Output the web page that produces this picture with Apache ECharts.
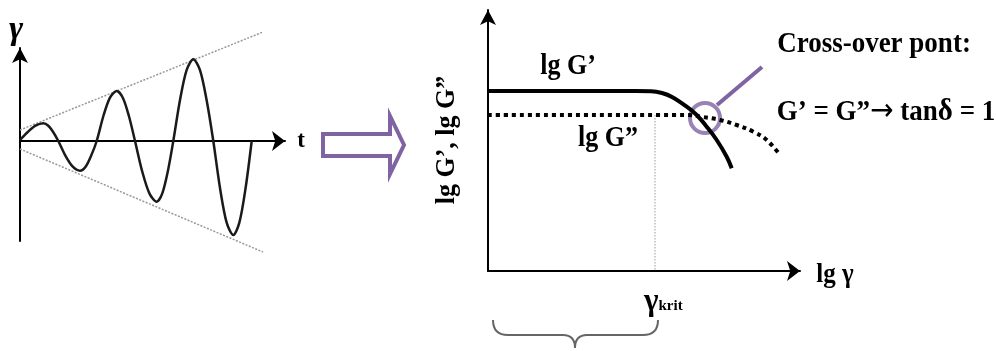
<!DOCTYPE html>
<html>
<head>
<meta charset="utf-8">
<script src="https://cdn.jsdelivr.net/npm/echarts@6/dist/echarts.min.js"></script>
<style>
html,body{margin:0;padding:0;background:#fff;}
#c{width:996px;height:351px;}
</style>
</head>
<body>
<div id="c"></div>
<script>
// ---- Left panel: oscillating strain (amplitude sweep) ----
const waveT = [0, 7.8, 15.5, 23.3, 28.3, 33.3, 38.3,
               45.5, 52.8, 60, 65.6, 71.1, 76.7,
               83.4, 90, 96.7, 102.8, 108.9, 115,
               122.2, 129.5, 136.7, 142.2, 147.8, 153.3,
               160, 166.6, 173.3, 180, 186.6, 193.3,
               200, 206.6, 213.3, 219.4, 225.6, 231.7];
const waveG = [1, 9, 15.3, 17.7, 15.3, 8.8, 0,
               -14.8, -25.7, -29.7, -25.7, -14.8, 0,
               25, 43.3, 50, 43.3, 25, 0,
               -30.4, -52.6, -60.7, -52.6, -30.4, 0,
               40.9, 70.8, 81.7, 70.8, 40.9, 0,
               -47, -81.4, -94, -81.4, -47, 0];
const envUpperT = [0, 243];
const envUpperG = [11, 109];
const envLowerT = [0, 243];
const envLowerG = [-8, -111];

// ---- Right panel: lg G', lg G'' vs lg gamma ----
const gpX  = [0, 147, 163, 174, 184, 198.7, 208.7, 218.7, 228.7, 238.7, 243.7];
const gpY  = [180, 180, 179.8, 178, 174, 164.3, 156, 144.3, 131, 114.3, 102.7];
const gppX = [0, 198.7, 215, 232, 248.7, 265.3, 278.7, 292];
const gppY = [156, 156, 154, 151, 146, 139.3, 131, 116];
const crossX = [217];
const crossY = [153];
const pointerX = [229, 274];
const pointerY = [166, 204];
const kritX = [167, 167];
const kritY = [156, 0];

const purple = '#8064A2';
const serif = '"Liberation Serif","Times New Roman",serif';

function pts(xs, ys){ return xs.map((x,i)=>[x, ys[i]]); }

const chart = echarts.init(document.getElementById('c'), null, {renderer:'canvas'});

const axisBase = {
  type:'value',
  axisLabel:{show:false}, axisTick:{show:false}, splitLine:{show:false},
};
const braceStyle = {stroke:'#666', lineWidth:2, fill:'none'};

function txt(x, y, text, font, extra){
  return Object.assign({type:'text', x:x, y:y,
    style:{text:text, font:font, fill:'#000', align:'center', verticalAlign:'middle'}}, extra||{});
}

chart.setOption({
  animation:false,
  backgroundColor:'#fff',
  grid:[
    {left:20, top:48, width:265, height:193},
    {left:488, top:10, width:312, height:261}
  ],
  xAxis:[
    Object.assign({}, axisBase, {gridIndex:0, min:0, max:265,
      axisLine:{onZero:true, symbol:['none','arrow'], symbolSize:[15,13], lineStyle:{color:'#000', width:2}}}),
    Object.assign({}, axisBase, {gridIndex:1, min:0, max:312,
      axisLine:{symbol:['none','arrow'], symbolSize:[15,13], lineStyle:{color:'#000', width:2}}})
  ],
  yAxis:[
    Object.assign({}, axisBase, {gridIndex:0, min:-100, max:93,
      axisLine:{onZero:true, symbol:['none','arrow'], symbolSize:[12,15], lineStyle:{color:'#000', width:2}}}),
    Object.assign({}, axisBase, {gridIndex:1, min:0, max:261,
      axisLine:{symbol:['none','arrow'], symbolSize:[12,15], lineStyle:{color:'#000', width:2}}})
  ],
  series:[
    {type:'line', xAxisIndex:0, yAxisIndex:0, data:pts(envUpperT, envUpperG), symbol:'none', clip:false,
      lineStyle:{color:'#999', width:1.5, type:[2,1.5]}},
    {type:'line', xAxisIndex:0, yAxisIndex:0, data:pts(envLowerT, envLowerG), symbol:'none', clip:false,
      lineStyle:{color:'#999', width:1.5, type:[2,1.5]}},
    {type:'line', xAxisIndex:0, yAxisIndex:0, data:pts(waveT, waveG), symbol:'none', smooth:0.3, clip:false,
      lineStyle:{color:'#1a1a1a', width:2.5}},
    {type:'line', xAxisIndex:1, yAxisIndex:1, data:pts(kritX, kritY), symbol:'none',
      lineStyle:{color:'#999', width:1, type:[1.5,1.5]}},
    {type:'line', xAxisIndex:1, yAxisIndex:1, data:pts(gppX, gppY), symbol:'none', smooth:0.4,
      lineStyle:{color:'#000', width:4, type:[4,4], cap:'butt'}},
    {type:'line', xAxisIndex:1, yAxisIndex:1, data:pts(gpX, gpY), symbol:'none', smooth:0.4,
      lineStyle:{color:'#000', width:4}},
    {type:'line', xAxisIndex:1, yAxisIndex:1, data:pts(pointerX, pointerY), symbol:'none',
      lineStyle:{color:purple, width:4}},
    {type:'scatter', xAxisIndex:1, yAxisIndex:1, data:pts(crossX, crossY), symbol:'circle', symbolSize:30,
      itemStyle:{color:'rgba(0,0,0,0)', borderColor:purple, borderWidth:4}}
  ],
  graphic:[
    {type:'polygon', shape:{points:[[323,134],[390,134],[390,116],[404,145],[390,174],[390,156],[323,156]]},
      style:{fill:'#fff', stroke:purple, lineWidth:4}},
    {type:'bezierCurve', shape:{x1:493,y1:320,cpx1:493,cpy1:335,x2:508,y2:335}, style:braceStyle},
    {type:'line', shape:{x1:508,y1:335,x2:563,y2:335}, style:braceStyle},
    {type:'bezierCurve', shape:{x1:563,y1:335,cpx1:575,cpy1:335,x2:575,y2:348}, style:braceStyle},
    {type:'bezierCurve', shape:{x1:575,y1:348,cpx1:575,cpy1:335,x2:587,y2:335}, style:braceStyle},
    {type:'line', shape:{x1:587,y1:335,x2:643,y2:335}, style:braceStyle},
    {type:'bezierCurve', shape:{x1:643,y1:335,cpx1:658,cpy1:335,x2:658,y2:320}, style:braceStyle},
    txt(16, 30, 'γ', 'italic bold 34px '+serif),
    txt(301, 141, 't', 'bold 23px '+serif),
    txt(568, 66, 'lg G’', 'bold 26px '+serif, {scaleY:1.12}),
    txt(608, 138, 'lg G”', 'bold 26px '+serif, {scaleY:1.12}),
    txt(447, 140, 'lg G’, lg G”', 'bold 26px '+serif, {rotation:Math.PI/2, scaleY:1.08}),
    txt(835, 275, 'lg γ', 'bold 25px '+serif, {scaleY:1.1}),
    txt(874, 44, 'Cross-over pont:', 'bold 27px '+serif, {scaleY:1.1}),
    {type:'text', x:886, y:112, scaleY:1.1, style:{
      text:'{n|G’ = G”}{ar|→}{n| tan}{d|δ}{n| = 1}', align:'center', verticalAlign:'middle',
      rich:{
        n:{font:'bold 27px '+serif, fill:'#000'},
        ar:{font:'28px "DejaVu Sans"', fill:'#000'},
        d:{font:'bold 29px '+serif, fill:'#000'}
      }}},
    {type:'text', x:644, y:302, style:{
      text:'{a|γ}{b|krit}', align:'left', verticalAlign:'middle',
      rich:{a:{font:'bold 31px '+serif, fill:'#000'}, b:{font:'bold 15px '+serif, fill:'#000', padding:[8,0,0,0]}}}}
  ]
});
</script>
</body>
</html>
